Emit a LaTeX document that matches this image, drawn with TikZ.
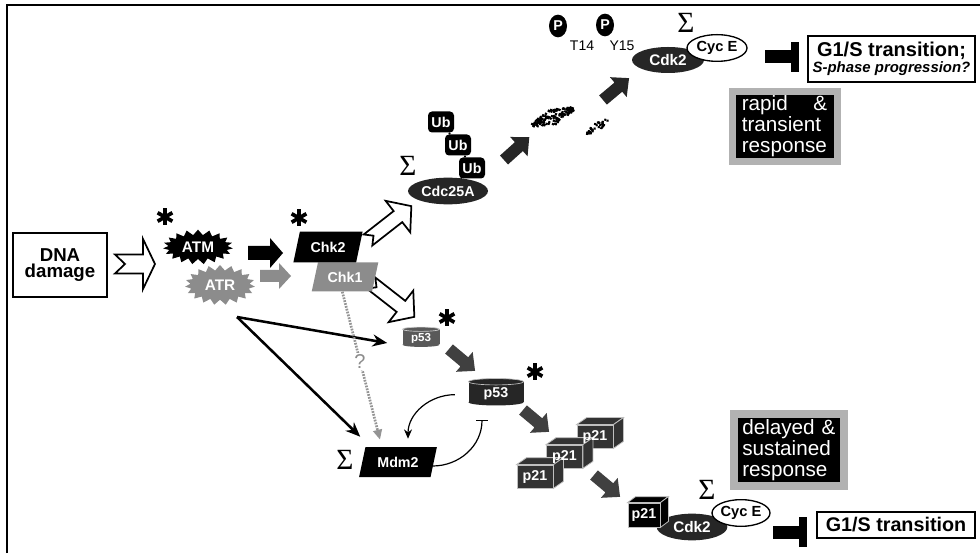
\documentclass[tikz,border=0pt]{standalone}
\usepackage{fontspec}
\setmainfont{Liberation Sans}
\newfontfamily\sigfont{Liberation Serif}
\usetikzlibrary{positioning, arrows.meta, calc, shapes.geometric, shapes.symbols}

\tikzset{
  pics/blk/.style n args={4}{code={
      \path[pic actions] (0,#2) -- ({#1-#4},#2) -- ({#1-#4},#3) -- (#1,0)
        -- ({#1-#4},-#3) -- ({#1-#4},-#2) -- (0,-#2) -- cycle;}},
  pics/hollow/.style n args={5}{code={
      \path[pic actions] (0,#2) -- ({#1-#4},#2) -- ({#1-#4},#3) -- (#1,0)
        -- ({#1-#4},-#3) -- ({#1-#4},-#2) -- (0,-#2) -- (#5,0) -- cycle;}},
  pics/ast/.style={code={
      \foreach \a in {90,30,150}
        \draw[line width=2.8pt] (\a:8.5) -- ({\a+180}:8.5);}},
  pics/tbar/.style={code={
      \fill (0,-6.5) rectangle (28,6.5);
      \fill (26,-15) rectangle (34,15);}}
}

\begin{document}
\begin{tikzpicture}[x=0.75pt, y=0.75pt,
    lab/.style={text=white, font=\fontsize{10.7}{12}\selectfont\bfseries, inner sep=0pt},
    burst/.style={lab, starburst, starburst points=19, starburst point height=4pt,
      random starburst=0, minimum width=52.5pt, minimum height=26pt,
      font=\fontsize{11.5}{12}\selectfont\bfseries},
    plg/.style={lab, trapezium, trapezium left angle=69, trapezium right angle=111,
      trapezium stretches=true},
    oval/.style={lab, ellipse, fill=black!85},
    cyc/.style={ellipse, draw, line width=1pt, fill=white, inner sep=0pt,
      font=\fontsize{11}{12}\selectfont\bfseries},
    ub/.style={lab, fill=black, rounded corners=3pt, minimum width=19.5pt, minimum height=15.75pt},
    phos/.style={lab, ellipse, fill=black, minimum width=13.5pt, minimum height=17pt},
    site/.style={font=\fontsize{10.5}{12}\selectfont, inner sep=0pt},
    sig/.style={font=\fontsize{22}{22}\sigfont, inner sep=0pt},
    cyl/.style={lab, text depth=0pt},
    cube/.style={fill=black!80, draw=black!25, line width=0.6pt, inner sep=0pt},
    face/.style={fill=black!80, draw=black!25, line width=0.6pt},
    box/.style={draw, line width=1.5pt, align=center, inner sep=1pt},
    resp/.style={fill=black, draw=black!30, text=white, align=left, inner sep=0pt,
      font=\fontsize{15.5}{15.75}\selectfont},
    hol/.style={draw, fill=white, line width=1.3pt},
    fat/.style={-{Stealth[length=11pt, width=9pt]}, line width=1.9pt},
    thinarr/.style={-{Stealth[length=7pt, width=6pt]}, line width=0.9pt},
    inhib/.style={-{Bar[width=9pt]}, line width=0.9pt},
    dotarr/.style={-{Triangle[length=7.5pt, width=6.5pt]}, draw=black!42, line width=2pt,
      dash pattern=on 1.3pt off 0.9pt}]

  \useasboundingbox (0,0) rectangle (980,553);
  \draw[line width=1.5pt] (7,0) -- (7,548) -- (980,548);

  % damage sensing
  \node[box, minimum width=70.5pt, minimum height=48pt,
    font=\fontsize{14}{12.5}\selectfont\bfseries] (dna) at (60,288) {DNA\\damage};
  \pic[hol] at (115,289) {hollow={40}{9.5}{25}{12}{10}};
  \node[burst, fill=black!45, minimum height=30pt] (atr) at (220,268) {ATR};
  \node[burst, fill=black] (atm) at (198,306) {ATM};
  \pic at (165,336) {ast};

  \pic[fill=black] at (248,300) {blk={35}{7}{15}{13}};
  \pic[fill=black!45] at (260,277) {blk={31}{6}{13}{12}};
  \pic[hol, rotate=38] at (368,313) {hollow={55}{7}{20}{17}{7}};
  \pic[hol, rotate=-38] at (371,270) {hollow={55}{7}{20}{17}{7}};
  \node[plg, fill=black!45, minimum width=50pt, minimum height=21.75pt] (chk1) at (345,276) {Chk1};
  \node[plg, fill=black, minimum width=52pt, minimum height=23pt] (chk2) at (328,306) {Chk2};
  \pic at (299,335) {ast};

  % rapid branch
  \node[oval, minimum width=60pt, minimum height=20pt] (cdc) at (448,362) {Cdc25A};
  \node[sig] at (408,387) {Σ};
  \node[ub] (ub1) at (441,431) {Ub};
  \node[ub] (ub2) at (458,408) {Ub};
  \node[ub] (ub3) at (472,385) {Ub};
  \draw[line width=1.2pt] (ub1) -- (ub2);
  \draw[line width=1.2pt] (ub2) -- (ub3);
  \draw[line width=1.2pt] (ub3) -- (cdc);

  \pic[fill=black!85, rotate=42] at (504,393) {blk={34}{6}{13}{14}};
  \pic[fill=black!85, rotate=40] at (603,453) {blk={34}{6}{13}{14}};
  \pgfmathsetseed{12}
  \begin{scope}[shift={(553,436)}, rotate=22]
    \foreach \i in {1,...,130}{
      \pgfmathsetmacro{\u}{rand}
      \pgfmathsetmacro{\v}{rand*(1-0.8*abs(\u))}
      \fill ({22*\u},{8*\v}) circle[radius=1.15pt];
    }
  \end{scope}
  \begin{scope}[shift={(597,426)}, rotate=35]
    \foreach \i in {1,...,35}{
      \pgfmathsetmacro{\u}{rand}
      \pgfmathsetmacro{\v}{rand*(1-0.8*abs(\u))}
      \fill ({13*\u},{4.5*\v}) circle[radius=1.1pt];
    }
  \end{scope}

  \node[phos] (pa) at (558,527) {P};
  \node[phos] (pb) at (605,528) {P};
  \node[site] at (582,507) {T14};
  \node[site] at (622,507) {Y15};
  \node[oval, minimum width=54pt, minimum height=19.5pt,
    font=\fontsize{11.5}{12}\selectfont\bfseries] (cdk) at (668,493) {Cdk2};
  \node[cyc, minimum width=45pt, minimum height=20pt] (cyce) at (717,505) {Cyc E};
  \node[sig] at (686,530) {Σ};
  \pic at (765,496) {tbar};
  \node[box, minimum width=125pt, minimum height=34.5pt,
    font=\fontsize{15}{12}\selectfont\bfseries] (g1s) at (891.5,494)
    {G1/S transition;\\{\fontsize{11.2}{12}\selectfont\itshape S-phase progression?}};
  \node[resp, line width=5.25pt, minimum width=78.75pt, minimum height=52.5pt,
    text width=64pt] (rapid) at (784.5,426.5) {rapid\hfill\&\\transient\\response};

  % delayed branch
  \node[cyl, fill=black!65, minimum width=27.75pt, minimum height=11.25pt, text height=6.2pt,
    font=\fontsize{8.7}{10}\selectfont\bfseries] (p53s) at (421,216) {p53};
  \fill[black!65] (p53s.south) ellipse[x radius=13.9pt, y radius=1.6pt];
  \filldraw[fill=black!65, draw=black!20, line width=0.5pt] (p53s.north) ellipse[x radius=13.9pt, y radius=1.6pt];
  \pic at (447,235) {ast};

  \node[cyl, fill=black!85, minimum width=41.25pt, minimum height=15pt, text height=7.8pt]
    (p53b) at (496,161) {p53};
  \fill[black!85] (p53b.south) ellipse[x radius=20.6pt, y radius=2.4pt];
  \filldraw[fill=black!85, draw=black!25, line width=0.5pt] (p53b.north) ellipse[x radius=20.6pt, y radius=2.4pt];
  \pic at (535,181) {ast};

  \pic[fill=black!75, rotate=-40] at (449,204) {blk={34}{6}{13}{14}};
  \pic[fill=black!75, rotate=-40] at (523,143) {blk={34}{6}{13}{14}};
  \pic[fill=black!75, rotate=-40] at (594,78) {blk={34}{6}{13}{14}};

  \node[plg, fill=black, minimum width=58.5pt, minimum height=22.5pt] (mdm) at (398,91) {Mdm2};
  \node[sig] at (345,93) {Σ};
  \coordinate (fork) at (237,236);
  \draw[fat] (fork) -- ($(p53s.west)+(-15,-6)$);
  \draw[fat] (fork) -- ($(mdm.top left corner)+(-5,10)$);
  \draw[dotarr] ([xshift=-2pt]chk1.south) -- node[pos=.47, fill=white, text=black!45, inner sep=1pt,
    font=\fontsize{15}{16}\selectfont] {?} ($(mdm.north)+(-18,7)$);
  \draw[thinarr] ([shift={(-10pt,-2pt)}]p53b.west) to[out=180, in=90] ([shift={(7.5pt,6pt)}]mdm.north);
  \draw[inhib] ([shift={(-1pt,-3pt)}]mdm.east) to[out=0, in=-90] ([shift={(-10.5pt,-13pt)}]p53b.south);

  \foreach \n/\x/\y in {p21c/595/116.5, p21b/564.5/96.5, p21a/535/76.5}{
    \node[cube, minimum width=27pt, minimum height=17.25pt] (\n) at (\x,\y) {};
    \filldraw[face] (\n.north west) -- ++(10,7) -- ($(\n.north east)+(10,7)$) -- (\n.north east) -- cycle;
    \filldraw[face] (\n.north east) -- ++(10,7) -- ($(\n.south east)+(10,7)$) -- (\n.south east) -- cycle;
  }
  \foreach \n in {p21c, p21b, p21a}
    \node[lab] at (\n) {p21};

  \node[oval, minimum width=53pt, minimum height=20pt,
    font=\fontsize{11.5}{12}\selectfont\bfseries] (cdkb) at (692,26) {Cdk2};
  \node[cube, lab, fill=black, minimum width=24pt, minimum height=18pt] (p21d) at (644,38) {p21};
  \filldraw[face, fill=black] (p21d.north west) -- ++(8,6) -- ($(p21d.north east)+(8,6)$) -- (p21d.north east) -- cycle;
  \filldraw[face, fill=black] (p21d.north east) -- ++(8,6) -- ($(p21d.south east)+(8,6)$) -- (p21d.south east) -- cycle;
  \node[cyc, minimum width=43.5pt, minimum height=20pt] (cyceb) at (741,40) {Cyc E};
  \node[sig] at (707,63) {Σ};
  \pic at (773,21) {tbar};
  \node[box, minimum width=118.5pt, minimum height=19.5pt,
    font=\fontsize{14.8}{16}\selectfont\bfseries] (g1sb) at (896,28) {G1/S transition};
  \node[resp, line width=6pt, minimum width=82.5pt, minimum height=53.25pt,
    text width=70pt] (delayed) at (789,103) {delayed \&\\sustained\\response};
\end{tikzpicture}
\end{document}
